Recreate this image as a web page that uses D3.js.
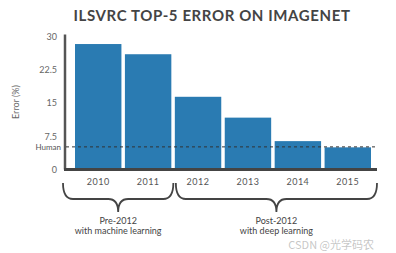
<!DOCTYPE html>
<html>
<head>
<meta charset="utf-8">
<script src="https://cdn.jsdelivr.net/npm/d3@7"></script>
<style>
  body { margin: 0; background: #fff; }
  text { font-family: "Lato", "DejaVu Sans", sans-serif; }
</style>
</head>
<body>
<div id="chart"></div>
<script>
var width = 396,
    height = 253;

// data
var years = ["2010", "2011", "2012", "2013", "2014", "2015"];
var errors = [28.3, 26.0, 16.4, 11.7, 6.4, 5.0];
var humanError = 5.1;
var yTicks = [0, 7.5, 15, 22.5, 30];
var groups = [
  {first: "2010", last: "2011", lines: ["Pre-2012", "with machine learning"]},
  {first: "2012", last: "2015", lines: ["Post-2012", "with deep learning"]}
];

var svg = d3.select("#chart")
  .append("svg")
  .attr("width", width)
  .attr("height", height);

// scales
var x = d3.scaleBand().domain(years).range([75, 371]).paddingInner(0.07).paddingOuter(0);
var y = d3.scaleLinear().domain([0, 30]).range([169.5, 36.5]);

// title
svg.append("text")
  .attr("x", 212)
  .attr("y", 21)
  .attr("text-anchor", "middle")
  .style("font-size", "15px")
  .style("font-weight", "bold")
  .style("letter-spacing", "0.6px")
  .style("fill", "#444")
  .text("ILSVRC TOP-5 ERROR ON IMAGENET");

// bars
svg.selectAll("rect.bar")
  .data(errors)
  .enter()
  .append("rect")
  .attr("class", "bar")
  .attr("x", (d, i) => x(years[i]))
  .attr("width", x.bandwidth())
  .attr("y", d => y(d))
  .attr("height", d => y(0) - y(d))
  .style("fill", "#2a7bb2");

// y axis
var yAxis = d3.axisLeft(y).tickValues(yTicks).tickFormat(d => String(d)).tickSize(0).tickPadding(8);
var gy = svg.append("g")
  .attr("transform", "translate(65,0)")
  .call(yAxis);
gy.select(".domain").remove();
gy.selectAll("text")
  .style("font-size", "9px")
  .style("fill", "#666")
  .style("font-family", "Lato, 'DejaVu Sans', sans-serif");

svg.append("line")
  .attr("x1", 65).attr("x2", 65)
  .attr("y1", y(30) - 2).attr("y2", y(0))
  .style("stroke", "#555")
  .style("stroke-width", 2.5);

// x axis
var xAxis = d3.axisBottom(x).tickSize(0).tickPadding(9);
var gx = svg.append("g")
  .attr("transform", "translate(0," + y(0) + ")")
  .call(xAxis);
gx.select(".domain").remove();
gx.selectAll("text")
  .style("font-size", "9px")
  .style("fill", "#555")
  .style("letter-spacing", "0.5px")
  .style("font-family", "Lato, 'DejaVu Sans', sans-serif");

svg.append("line")
  .attr("x1", 64).attr("x2", 377)
  .attr("y1", y(0)).attr("y2", y(0))
  .style("stroke", "#444")
  .style("stroke-width", 3);

// human error line
svg.append("line")
  .attr("x1", 66).attr("x2", 377)
  .attr("y1", y(humanError)).attr("y2", y(humanError))
  .style("stroke", "#333")
  .style("stroke-width", 1)
  .style("stroke-dasharray", "3,3");

svg.append("text")
  .attr("x", 61)
  .attr("y", y(humanError) + 3)
  .attr("text-anchor", "end")
  .style("font-size", "8px")
  .style("fill", "#555")
  .text("Human");

// y label
svg.append("text")
  .attr("transform", "translate(19,102) rotate(-90)")
  .attr("text-anchor", "middle")
  .style("font-size", "9px")
  .style("fill", "#666")
  .text("Error (%)");

// braces under the year groups
function brace(x1, x2, y0, yh, ytip) {
  var mid = (x1 + x2) / 2, r = 10;
  return "M" + x1 + "," + y0 +
    " Q" + x1 + "," + yh + " " + (x1 + r) + "," + yh +
    " L" + (mid - r) + "," + yh +
    " Q" + mid + "," + yh + " " + mid + "," + ytip +
    " Q" + mid + "," + yh + " " + (mid + r) + "," + yh +
    " L" + (x2 - r) + "," + yh +
    " Q" + x2 + "," + yh + " " + x2 + "," + y0;
}

groups.forEach(g => {
  var x1 = x(g.first) - 12,
      x2 = x(g.last) + x.bandwidth() + 2;
  if (g.first == "2012") { x1 = x(g.first) + 1; x2 = 377; }
  svg.append("path")
    .attr("d", brace(x1, x2, 183, 199, 212))
    .style("fill", "none")
    .style("stroke", "#444")
    .style("stroke-width", 1.8);
  g.lines.forEach((t, i) => {
    svg.append("text")
      .attr("x", (x1 + x2) / 2)
      .attr("y", 224 + i * 10)
      .attr("text-anchor", "middle")
      .style("font-size", "9px")
      .style("fill", "#444")
      .text(t);
  });
});

// watermark
svg.append("text")
  .attr("x", 374)
  .attr("y", 249)
  .attr("text-anchor", "end")
  .style("font-size", "11px")
  .style("fill", "rgba(150,150,150,0.55)")
  .style("font-family", "'Noto Sans CJK SC', sans-serif")
  .text("CSDN @光学码农");
</script>
</body>
</html>
